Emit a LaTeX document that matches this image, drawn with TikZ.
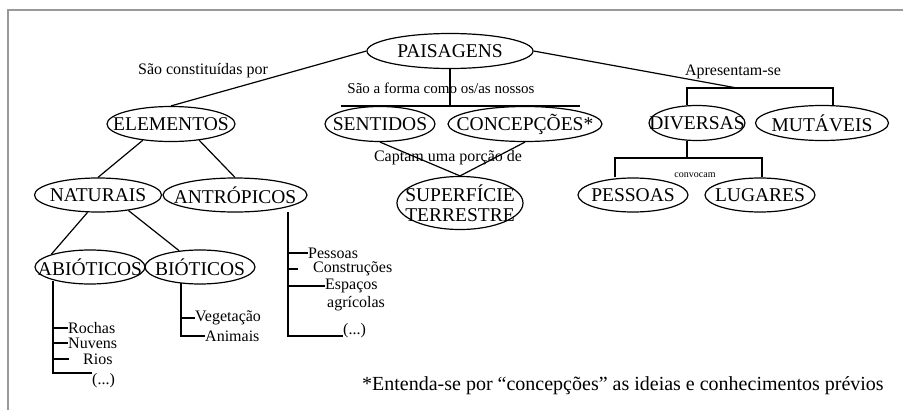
\documentclass[tikz,border=0pt]{standalone}
\usepackage{fontspec}
\setmainfont{Liberation Serif}
\usetikzlibrary{shapes.geometric}
\newcommand{\lbl}[1]{\makebox[0pt]{#1}}

\begin{document}
\begin{tikzpicture}
        [auto, x=1pt, y=-1pt,
         node_style/.style={ellipse,draw=black,line width=1.2pt,inner sep=0pt,
                            minimum height=35,font=\fontsize{19.5}{20}\selectfont},
         label_style/.style={inner sep=0pt,font=\fontsize{16}{17}\selectfont},
         item_style/.style={inner sep=0pt,anchor=west,font=\fontsize{16}{17}\selectfont},
         foot_style/.style={inner sep=0pt,anchor=west,font=\fontsize{20}{22}\selectfont},
         edge_style/.style={draw=black,line width=1.2pt},
         frame_style/.style={draw=black!40,line width=1.5pt}]
            \useasboundingbox (0,0) rectangle (903,410);
            \draw[frame_style] (8,410) -- (8,10) -- (903,10);
            % ellipses
            \node[node_style, minimum width=166] (paisagens) at (450, 51) {\lbl{PAISAGENS}};
            \node[node_style, minimum width=128] (elementos) at (171, 124) {\lbl{ELEMENTOS}};
            \node[node_style, minimum width=110] (sentidos) at (380, 124) {\lbl{SENTIDOS}};
            \node[node_style, minimum width=154] (concepcoes) at (525, 124) {\lbl{CONCEPÇÕES*}};
            \node[node_style, minimum width=96] (diversas) at (697, 123) {\lbl{DIVERSAS}};
            \node[node_style, minimum width=133] (mutaveis) at (822, 123) {\lbl{MUTÁVEIS}};
            \node[node_style, minimum width=127, minimum height=34] (naturais) at (98, 195) {\lbl{NATURAIS}};
            \node[node_style, minimum width=144, minimum height=34] (antropicos) at (235, 195) {\lbl{ANTRÓPICOS}};
            \node[node_style, minimum width=126, minimum height=53, align=center] (superficie) at (460, 203) {\lbl{SUPERFÍCIE}\\\lbl{TERRESTRE}};
            \node[node_style, minimum width=110, minimum height=34] (pessoas) at (633, 195) {\lbl{PESSOAS}};
            \node[node_style, minimum width=110, minimum height=34] (lugares) at (760, 195) {\lbl{LUGARES}};
            \node[node_style, minimum width=110, minimum height=34] (abioticos) at (90, 267) {\lbl{ABIÓTICOS}};
            \node[node_style, minimum width=110, minimum height=34] (bioticos) at (200, 267) {\lbl{BIÓTICOS}};
            % connector texts
            \node[label_style] (constituidas) at (203, 71) {São constituídas por};
            \node[label_style, font=\fontsize{15}{17}\selectfont] (forma) at (441, 88) {São a forma como os/as nossos};
            \node[label_style] (apresentam) at (733, 72) {Apresentam-se};
            \node[label_style] (captam) at (448, 158) {Captam uma porção de};
            \node[label_style, font=\fontsize{10}{11}\selectfont] (convocam) at (695, 175) {convocam};
            % lists
            \node[item_style] (rochas) at (68, 328) {Rochas};
            \node[item_style] (nuvens) at (68, 343) {Nuvens};
            \node[item_style] (rios) at (83, 359) {Rios};
            \node[item_style] (dots_a) at (92, 381) {(...)};
            \node[item_style] (vegetacao) at (195, 318) {Vegetação};
            \node[item_style] (animais) at (205, 336) {Animais};
            \node[item_style] (pessoas_i) at (308, 253) {Pessoas};
            \node[item_style] (construcoes) at (313, 269) {Construções};
            \node[item_style] (espacos) at (325, 286) {Espaços};
            \node[item_style] (agricolas) at (327, 304) {agrícolas};
            \node[item_style] (dots_b) at (343, 331) {(...)};
            \node[foot_style] (nota) at (362, 386) {*Entenda-se por “concepções” as ideias e conhecimentos prévios};
            % bracket points
            \coordinate (ap_m) at (737, 88);
            \coordinate (ap_l) at (687, 88);
            \coordinate (ap_r) at (833, 88);
            \coordinate (div_l) at (615, 158);
            \coordinate (div_r) at (762, 158);
            \coordinate (abio_top) at (53, 281);
            \coordinate (abio_end) at (53, 373);
            \coordinate (bio_top) at (181, 283);
            \coordinate (bio_end) at (181, 336);
            \coordinate (antr_top) at (288, 212);
            \coordinate (antr_end) at (288, 336);
            % connectors
            \draw[edge_style] (paisagens.west) edge (elementos.north);
            \draw[edge_style] (paisagens.east) edge (ap_m);
            \draw[edge_style] (paisagens.south) -- (paisagens.south |- sentidos.north);
            \draw[edge_style] (sentidos.north west |- sentidos.north) -- (concepcoes.north east |- concepcoes.north);
            \draw[edge_style] (diversas.north -| ap_l) -- (ap_l) -- (ap_r) -- (mutaveis.north -| ap_r);
            \draw[edge_style] (diversas.south -| ap_l) -- (ap_l |- div_l);
            \draw[edge_style] (pessoas.north -| div_l) -- (div_l) -- (div_r) -- (lugares.north -| div_r);
            \draw[edge_style] (sentidos.south) edge (superficie.north);
            \draw[edge_style] (concepcoes.south) edge (superficie.north);
            \draw[edge_style] (elementos.-150) edge (naturais.north);
            \draw[edge_style] (elementos.-30) edge (antropicos.north);
            \draw[edge_style] (naturais.-121) edge (abioticos.162);
            \draw[edge_style] (naturais.-27) edge (bioticos.142);
            \draw[edge_style] (abio_top) -- (abio_end) -- (abio_end -| dots_a.west);
            \draw[edge_style] (abio_top |- rochas.west) -- (rochas.west);
            \draw[edge_style] (abio_top |- nuvens.west) -- (nuvens.west);
            \draw[edge_style] (abio_top |- rios.west) -- ++(16, 0);
            \draw[edge_style] (bio_top) -- (bio_end) -- (animais.west |- bio_end);
            \draw[edge_style] (bio_top |- vegetacao.west) -- (vegetacao.west);
            \draw[edge_style] (antr_top) -- (antr_end) -- (antr_end -| dots_b.west);
            \draw[edge_style] (antr_top |- pessoas_i.west) -- (pessoas_i.west);
            \draw[edge_style] (antr_top |- construcoes.west) -- ++(10, 0);
            \draw[edge_style] (antr_top |- espacos.west) -- (espacos.west);
        \end{tikzpicture}
\end{document}
